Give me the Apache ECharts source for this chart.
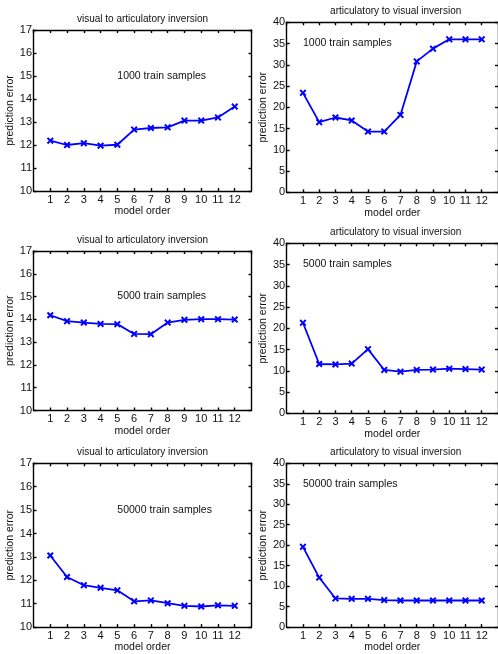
<!DOCTYPE html>
<html>
<head>
<meta charset="utf-8">
<script src="https://cdn.jsdelivr.net/npm/echarts@6/dist/echarts.min.js"></script>
<style>
	html, body { margin: 0; padding: 0; background: #fff; }
	#chart { width: 498px; height: 654px; }
</style>
</head>
<body>
<div id="chart"></div>
<script>
	// model order on the x axis
	var modelOrder = [1, 2, 3, 4, 5, 6, 7, 8, 9, 10, 11, 12];

	// visual to articulatory inversion (left column)
	var visual1000 = [12.19, 12.00, 12.08, 11.97, 12.01, 12.67, 12.74, 12.77, 13.06, 13.06, 13.20, 13.67];
	var visual5000 = [14.18, 13.92, 13.86, 13.80, 13.79, 13.36, 13.35, 13.86, 13.98, 14.01, 14.01, 13.99];
	var visual50000 = [13.06, 12.14, 11.79, 11.68, 11.57, 11.10, 11.14, 11.02, 10.91, 10.88, 10.93, 10.91];

	// articulatory to visual inversion (right column)
	var artic1000 = [23.4, 16.5, 17.6, 16.9, 14.3, 14.3, 18.2, 30.8, 33.8, 36.0, 36.0, 36.0];
	var artic5000 = [21.3, 11.6, 11.5, 11.7, 15.1, 10.2, 9.8, 10.2, 10.3, 10.5, 10.4, 10.3];
	var artic50000 = [19.6, 12.1, 7.0, 6.9, 6.9, 6.6, 6.5, 6.5, 6.5, 6.5, 6.5, 6.5];

	var sampleLabels = ['1000 train samples', '5000 train samples', '50000 train samples'];
	var titleVisual = 'visual to articulatory inversion';
	var titleArtic = 'articulatory to visual inversion';

	var font = '"Liberation Sans", Arial, Helvetica, sans-serif';
	var crossSymbol = 'path://M0,2L2,0L5,3L8,0L10,2L7,5L10,8L8,10L5,7L2,10L0,8L3,5Z';

	// panel boxes
	var panels = [
		{ left: 33.5, top: 30, height: 161, values: visual1000, label: sampleLabels[0], visual: true },
		{ left: 286.7, top: 22.3, height: 170, values: artic1000, label: sampleLabels[0], visual: false },
		{ left: 33.5, top: 251, height: 159.5, values: visual5000, label: sampleLabels[1], visual: true },
		{ left: 286.7, top: 243.3, height: 170, values: artic5000, label: sampleLabels[1], visual: false },
		{ left: 33.5, top: 463.3, height: 170.5, values: visual50000, label: sampleLabels[2], visual: true },
		{ left: 286.7, top: 463.3, height: 171, values: artic50000, label: sampleLabels[2], visual: false }
	];

	var option = {
		animation: false,
		backgroundColor: '#fff',
		textStyle: { fontFamily: font },
		grid: [],
		xAxis: [],
		yAxis: [],
		series: [],
		graphic: []
	};

	var lineStyle = { color: '#000', width: 1.4 };

	for(var i = 0; i < panels.length; i++){

		var p = panels[i];
		var yMin = p.visual ? 10 : 0;
		var yMax = p.visual ? 17 : 40;
		var yStep = p.visual ? 1 : 5;

		option.grid.push({ left: p.left, top: p.top, width: 218, height: p.height, containLabel: false });

		// bottom and top x axes
		option.xAxis.push({
			type: 'value', gridIndex: i, position: 'bottom',
			min: 0, max: 13, interval: 1,
			axisLine: { show: true, onZero: false, lineStyle: lineStyle },
			axisTick: { show: true, inside: true, length: 3, lineStyle: lineStyle },
			axisLabel: { show: true, color: '#111', fontSize: 11, margin: 3, showMinLabel: false, showMaxLabel: false },
			splitLine: { show: false },
			name: 'model order', nameLocation: 'middle', nameGap: 12.5,
			nameTextStyle: { color: '#111', fontSize: 10.5 }
		});
		option.xAxis.push({
			type: 'value', gridIndex: i, position: 'top',
			min: 0, max: 13, interval: 1,
			axisLine: { show: true, onZero: false, lineStyle: lineStyle },
			axisTick: { show: true, inside: true, length: 3, lineStyle: lineStyle },
			axisLabel: { show: false },
			splitLine: { show: false }
		});
		// left and right y axes
		option.yAxis.push({
			type: 'value', gridIndex: i, position: 'left',
			min: yMin, max: yMax, interval: yStep,
			axisLine: { show: true, onZero: false, lineStyle: lineStyle },
			axisTick: { show: true, inside: true, length: 3, lineStyle: lineStyle },
			axisLabel: { show: true, color: '#111', fontSize: 11, margin: 1.5 },
			splitLine: { show: false },
			name: 'prediction error', nameLocation: 'middle', nameGap: p.visual ? 14 : 15.5,
			nameTextStyle: { color: '#111', fontSize: 10.5 }
		});
		option.yAxis.push({
			type: 'value', gridIndex: i, position: 'right',
			min: yMin, max: yMax, interval: yStep,
			axisLine: { show: true, onZero: false, lineStyle: lineStyle },
			axisTick: { show: true, inside: true, length: 3, lineStyle: lineStyle },
			axisLabel: { show: false },
			splitLine: { show: false }
		});

		var points = [];
		for(var k = 0; k < modelOrder.length; k++)
			points.push([modelOrder[k], p.values[k]]);

		option.series.push({
			type: 'line',
			xAxisIndex: 2 * i,
			yAxisIndex: 2 * i,
			data: points,
			symbol: crossSymbol,
			symbolSize: 7,
			showAllSymbol: true,
			lineStyle: { color: '#0000ff', width: 1.8 },
			itemStyle: { color: '#0000ff' },
			markPoint: {
				symbol: 'circle',
				symbolSize: 0,
				silent: true,
				data: [{
					coord: p.visual ? [5, 15] : [1, 35],
					label: {
						show: true, position: 'right', distance: 0,
						formatter: p.label, color: '#111', fontSize: 10.5, fontFamily: font
					}
				}]
			}
		});

		// panel title
		option.graphic.push({
			type: 'text',
			x: p.left + 109,
			y: p.top - 11,
			style: {
				text: p.visual ? titleVisual : titleArtic,
				fill: '#111',
				font: '10px ' + font,
				align: 'center',
				verticalAlign: 'middle'
			}
		});
	}

	var chart = echarts.init(document.getElementById('chart'), null, { renderer: 'canvas' });
	chart.setOption(option);
</script>
</body>
</html>
